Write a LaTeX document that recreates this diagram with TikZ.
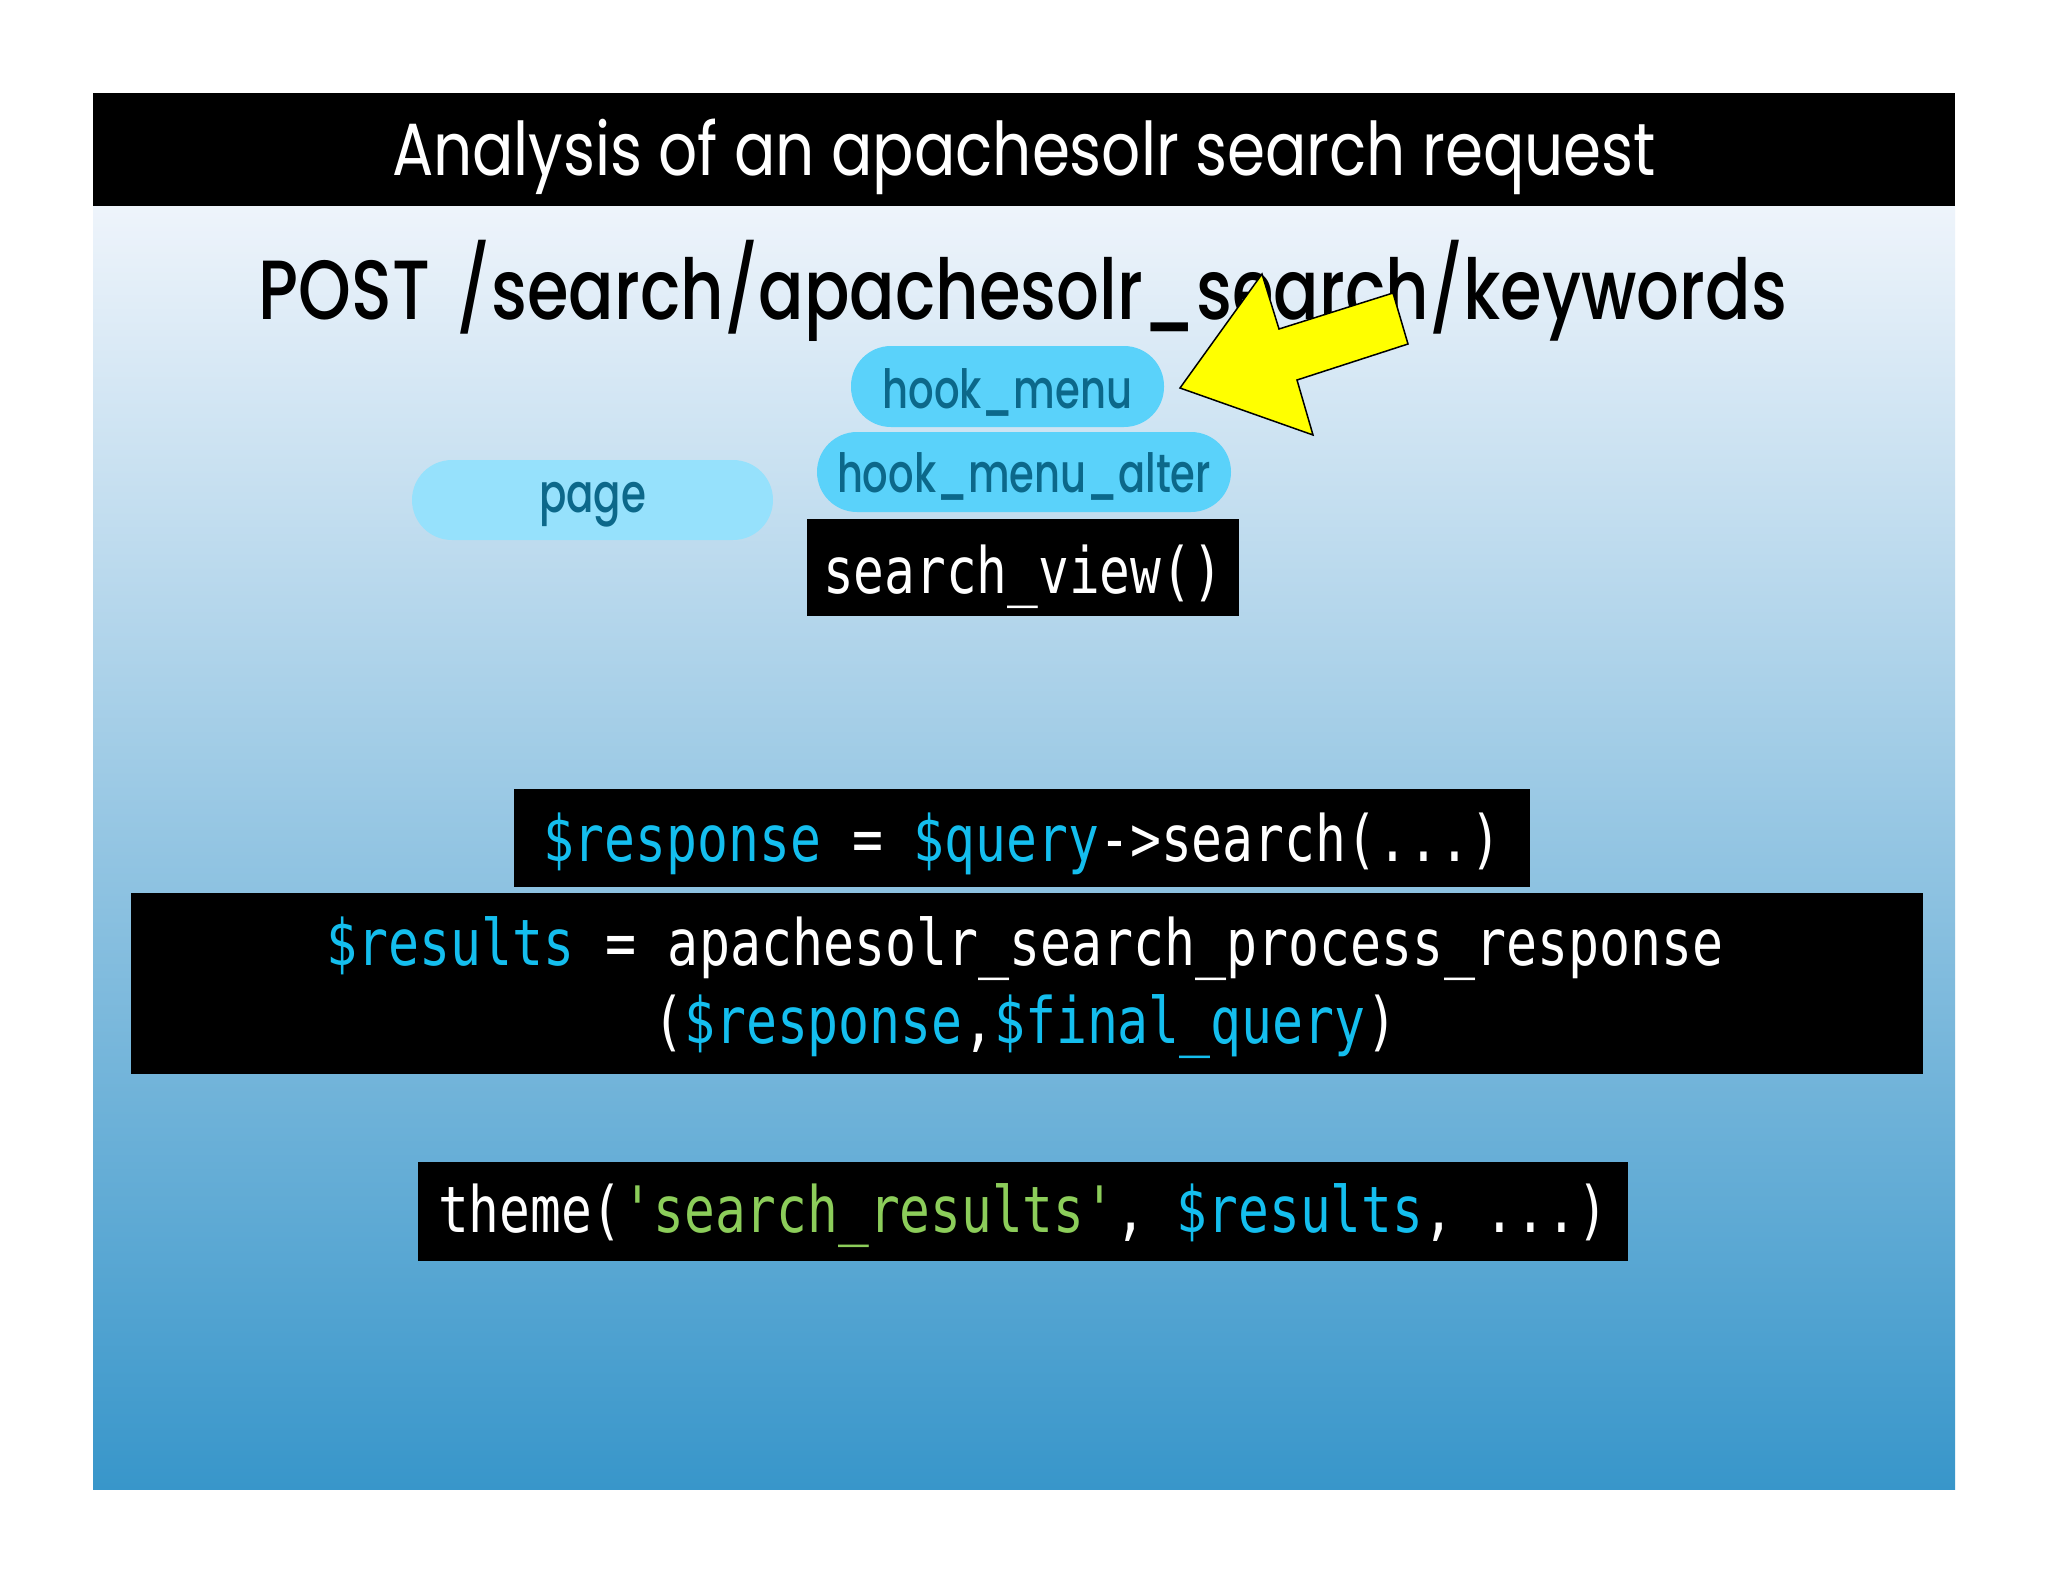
\documentclass[tikz,border=0pt]{standalone}
\usepackage{fontspec}
\setmainfont{Poppins}
\newfontfamily\medfont{Poppins Medium}
\setmonofont{DejaVu Sans Mono}[FakeStretch=0.8]
\definecolor{pilltext}{RGB}{12,104,138}
\definecolor{pillA}{RGB}{90,210,250}
\definecolor{pillB}{RGB}{150,225,252}
\definecolor{varcyan}{RGB}{20,190,238}
\definecolor{strgreen}{RGB}{140,205,90}
\definecolor{bgtop}{RGB}{238,244,251}
\definecolor{bgmid}{RGB}{172,209,234}
\definecolor{bgbot}{RGB}{56,150,202}
\definecolor{arrowyellow}{RGB}{255,255,0}
\newlength\fitlen
\newcommand\hfit[2]{\settowidth\fitlen{#2}\pgfmathsetmacro\fitratio{#1/\fitlen}\scalebox{\fitratio}[1]{#2}}
\begin{document}
\begin{tikzpicture}[x=1pt,y=-1pt,
  pill/.style={rounded corners=40pt, inner sep=0pt, text=pilltext, font=\medfont\fontsize{54}{60}\selectfont, text depth=0pt},
  codebox/.style={fill=black, inner sep=0pt, text=white, font=\ttfamily\fontsize{64}{70}\selectfont, text depth=0pt},
  codetext/.style={inner sep=0pt, text=white, font=\ttfamily\fontsize{64}{70}\selectfont},
  plainbox/.style={fill=black, inner sep=0pt},
]
\path[use as bounding box, fill=white] (0,0) rectangle (2048,1582);
\shade[top color=bgtop, middle color=bgmid, bottom color=bgbot] (93,206) rectangle (1955,1489);
\node[plainbox, minimum width=1862, minimum height=113, anchor=north west] (bar) at (93,93) {};
\node[anchor=base, text=white, inner sep=0pt, font=\fontsize{74}{80}\selectfont] (title) at (1024,175) {\hfit{1264pt}{Analysis of an apachesolr search request}};
\node[anchor=base, text=black, inner sep=0pt, font=\medfont\fontsize{84}{90}\selectfont] (post) at (1023,319) {\hfit{1528pt}{POST\hspace{0.4em}/search/apachesolr\_search/keywords}};

\node[pill, fill=pillA, minimum width=313, minimum height=81, text height=43pt] (hm) at (1007.5,386.5) {\hfit{250pt}{hook\_menu}};
\node[pill, fill=pillA, minimum width=414, minimum height=80, text height=40pt] (hma) at (1024,472) {\hfit{374pt}{hook\_menu\_alter}};
\node[pill, fill=pillB, minimum width=361, minimum height=80, text height=24pt] (page) at (592.5,500) {\hfit{107pt}{page}};

\draw[fill=arrowyellow, line width=1.5pt, line join=miter] (1262,274) -- (1279,329) -- (1393,293) -- (1408,344) -- (1297,380) -- (1313,435) -- (1180,388) -- cycle;

\node[codebox, minimum width=432, minimum height=97, text height=51pt] (sv) at (1023,567.5) {\hfit{400pt}{search\_view()}};
\node[codebox, minimum width=1016, minimum height=98, text height=46pt] (resp) at (1022,838) {\hfit{958pt}{\textcolor{varcyan}{\$response} = \textcolor{varcyan}{\$query}->search(...)}};
\node[plainbox, minimum width=1792, minimum height=181] (resbox) at (1027,983.5) {};
\node[codetext, anchor=base] (res1) at (1025,965) {\hfit{1397pt}{\textcolor{varcyan}{\$results} = apachesolr\_search\_process\_response}};
\node[codetext, anchor=base] (res2) at (1025,1043) {\hfit{744pt}{(\textcolor{varcyan}{\$response},\textcolor{varcyan}{\$final\_query})}};
\node[codebox, minimum width=1210, minimum height=99, text height=41pt] (theme) at (1023,1211.5) {\hfit{1170pt}{theme(\textcolor{strgreen}{'search\_results'}, \textcolor{varcyan}{\$results}, ...)}};
\end{tikzpicture}
\end{document}
